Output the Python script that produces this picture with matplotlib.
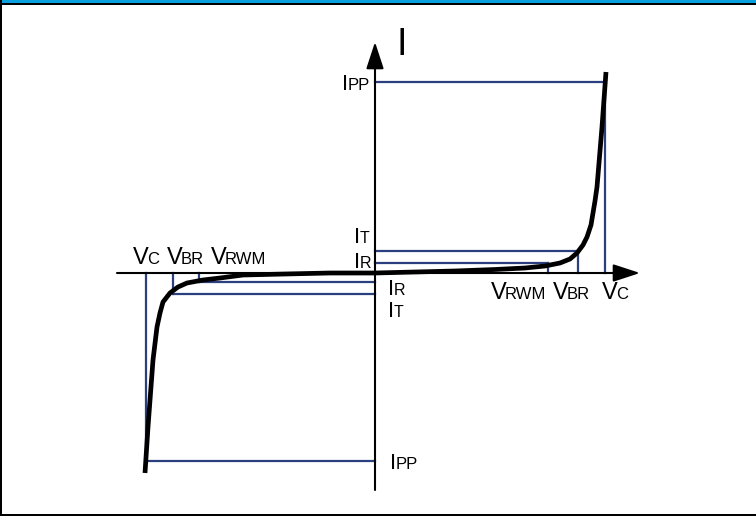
import matplotlib
matplotlib.use("Agg")
import matplotlib.pyplot as plt
from matplotlib.patches import Rectangle

plt.rcParams['font.family'] = ['Liberation Sans', 'DejaVu Sans']

W, H = 756, 516
OX, OY = 375, 273  # pixel position of the origin

# I-V characteristic of a bidirectional TVS diode (units: arbitrary)
curve_v = [-230, -227, -222, -218, -215, -212, -205, -197, -188, -172, -155, -132, -90, -45,
           0, 40, 80, 120, 150, 170, 185, 195, 202, 208, 212, 216, 218, 220, 222, 227, 231]
curve_i = [-200, -154, -87, -54, -40, -29, -20, -14, -10, -7, -5, -2, -1, 0,
           0, 1, 2, 3.5, 5, 7, 10, 14, 20, 28, 36, 48, 60, 72, 86, 146, 201]

# characteristic levels: [negative side, positive side]
v_rwm = [-176, 173]
v_br = [-202, 203]
v_c = [-229, 230]
i_r = [-9, 10]
i_t = [-21, 22]
i_pp = [-188, 191]

x_axis = [-258, 265]
y_axis = [-217, 231]

fig = plt.figure(figsize=(W / 100, H / 100), dpi=100)
ax = fig.add_axes([0, 0, 1, 1])
ax.set_xlim(-OX, W - OX)
ax.set_ylim(OY - H, OY)
ax.axis('off')

LC = '#2B3F7E'
LW = 1.6
for k in range(2):
    ax.plot([0, v_c[k]], [i_pp[k], i_pp[k]], color=LC, lw=LW, zorder=2)
    ax.plot([v_c[k], v_c[k]], [0, i_pp[k]], color=LC, lw=LW, zorder=2)
    ax.plot([0, v_br[k]], [i_t[k], i_t[k]], color=LC, lw=LW, zorder=2)
    ax.plot([v_br[k], v_br[k]], [0, i_t[k]], color=LC, lw=LW, zorder=2)
    ax.plot([0, v_rwm[k]], [i_r[k], i_r[k]], color=LC, lw=LW, zorder=2)
    ax.plot([v_rwm[k], v_rwm[k]], [0, i_r[k]], color=LC, lw=LW, zorder=2)

# axes with arrows
arrow = dict(arrowstyle='-|>,head_length=0.55,head_width=0.18', mutation_scale=30,
             lw=1.5, color='black', shrinkA=0, shrinkB=0)
ax.annotate('', xy=(x_axis[1], 0), xytext=(x_axis[0], 0), arrowprops=arrow, zorder=3)
ax.annotate('', xy=(0, y_axis[1]), xytext=(0, y_axis[0]), arrowprops=arrow, zorder=3)

# curve
ax.plot(curve_v, curve_i, color='black', lw=3.4, solid_joinstyle='round',
        solid_capstyle='butt', zorder=4)


def P(x, y):
    return x - OX, OY - y


def label(px, py, big, small, bs, ss, ha='left', gap=-1.5):
    x, y = P(px, py)
    if ha == 'left':
        t = ax.text(x, y, big, fontsize=bs, ha='left', va='baseline')
        ax.annotate(small, xy=(1, y), xycoords=(t, 'data'), xytext=(gap, 0),
                    textcoords='offset points', fontsize=ss, ha='left', va='baseline')
    else:
        t = ax.text(x, y, small, fontsize=ss, ha='right', va='baseline')
        ax.annotate(big, xy=(0, y), xycoords=(t, 'data'), xytext=(-gap, 0),
                    textcoords='offset points', fontsize=bs, ha='right', va='baseline')


# axis label
x0, y0 = P(397, 55)
ax.text(x0, y0, 'I', fontsize=27, ha='left', va='baseline')

# voltage labels
for px, sub in [(133, 'C'), (167, 'BR'), (211, 'RWM')]:
    label(px, 264, 'V', sub, 17, 12)
for px, sub in [(491, 'RWM'), (553, 'BR'), (602, 'C')]:
    label(px, 299, 'V', sub, 17, 12)

# current labels
label(369, 243, 'I', 'T', 16, 11.5, ha='right', gap=-0.3)
label(371, 268, 'I', 'R', 16, 11.5, ha='right', gap=-0.3)
label(388, 295, 'I', 'R', 16, 11.5, gap=-0.3)
label(388, 317, 'I', 'T', 16, 11.5, gap=-0.3)
label(370, 90, 'I', 'PP', 16, 12, ha='right', gap=-0.3)
label(390, 469, 'I', 'PP', 16, 12, gap=-0.3)

# frame
fig.add_artist(Rectangle((0, 1 - 3 / H), 1, 3 / H, transform=fig.transFigure,
                         facecolor='#0AA0E0', edgecolor='none'))
fig.add_artist(Rectangle((0, 1 - 4.5 / H), 1, 1.5 / H, transform=fig.transFigure,
                         facecolor='black', edgecolor='none'))
fig.add_artist(Rectangle((0, 0), 2 / W, 1, transform=fig.transFigure,
                         facecolor='black', edgecolor='none'))
fig.add_artist(Rectangle((0, 0), 1, 2 / H, transform=fig.transFigure,
                         facecolor='black', edgecolor='none'))

fig.savefig('out.png', dpi=100)
